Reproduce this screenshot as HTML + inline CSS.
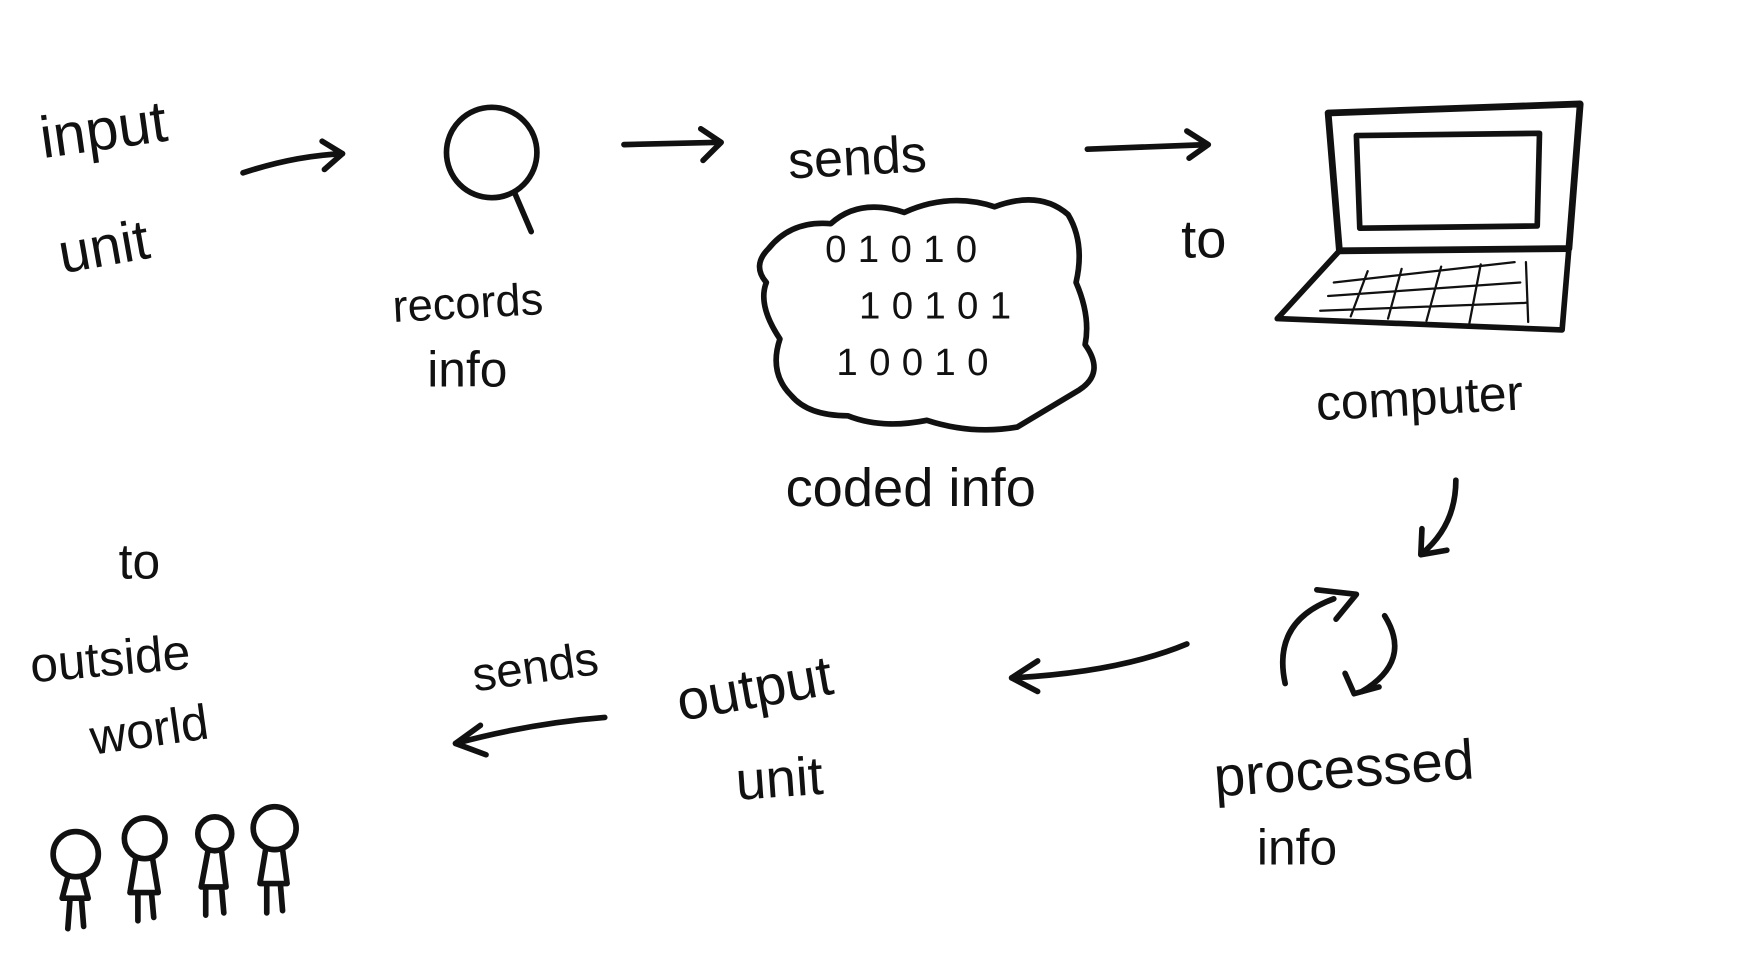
<!DOCTYPE html>
<html><head><meta charset="utf-8"><style>
html,body{margin:0;padding:0;background:#fff;}
svg{display:block}
text{font-family:"Liberation Sans",sans-serif;fill:#111;}
</style></head><body>
<svg width="1752" height="966" viewBox="0 0 1550 855" preserveAspectRatio="none">
<g fill="none" stroke="#111" stroke-width="5" stroke-linecap="round" stroke-linejoin="round">
<!-- arrows top -->
<path d="M215 153 Q260 138 303 136"/><path d="M285 125 L303 136 L287 150"/>
<path d="M552 128 L637 126"/><path d="M620 114 L638 126 L622 142"/>
<path d="M962 132 L1068 128"/><path d="M1050 116 L1069 128 L1052 140"/>
<!-- magnifier -->
<circle cx="435" cy="135" r="40"/><path d="M455 170 L470 205"/>
<!-- cloud -->
<path d="M680 220 Q700 195 735 198 Q760 175 800 188 Q840 170 880 183 Q920 168 945 190 Q960 215 952 250 Q965 280 960 305 Q978 330 955 345 Q930 360 900 378 Q860 385 820 372 Q780 380 750 368 Q715 368 700 350 Q680 330 690 300 Q670 270 678 250 Q665 235 680 220Z"/>
<!-- laptop -->
<path d="M1175 100 L1398 92 L1388 220 L1185 222 Z" stroke-width="6"/>
<path d="M1200 120 L1362 118 L1360 200 L1203 202 Z"/>
<path d="M1185 222 L1130 282 L1382 292 L1388 220"/>
<g stroke-width="2"><path d="M1180 250 L1340 232 M1175 262 L1345 250 M1168 275 L1350 268 M1210 240 L1195 280 M1240 238 L1228 282 M1275 236 L1262 284 M1310 234 L1300 286 M1350 232 L1352 285"/></g>
<!-- down arrow -->
<path d="M1288 425 Q1288 465 1258 490"/><path d="M1258 468 L1257 491 L1280 487"/>
<!-- cycle -->
<path d="M1137 605 Q1125 550 1180 530"/><path d="M1165 522 L1200 526 L1182 548"/>
<path d="M1225 545 Q1250 585 1205 612"/><path d="M1190 596 L1198 614 L1220 608"/>
<!-- bottom arrows -->
<path d="M1050 570 Q990 595 895 600"/><path d="M918 585 L895 600 L918 612"/>
<path d="M535 635 Q470 640 403 658"/><path d="M425 642 L403 658 L430 668"/>
<!-- people -->
<circle cx="67" cy="756" r="20"/><path d="M60 776 L55 795 L78 795 L73 776 M62 795 L60 822 M72 795 L74 820"/>
<circle cx="128" cy="742" r="18"/><path d="M120 760 L115 790 L140 790 L135 760 M122 790 L122 815 M134 790 L136 812"/>
<circle cx="190" cy="738" r="15"/><path d="M184 753 L178 785 L200 785 L196 753 M182 785 L182 810 M196 785 L198 808"/>
<circle cx="243" cy="733" r="19"/><path d="M235 752 L230 782 L254 782 L250 752 M236 782 L236 808 M248 782 L250 806"/>
</g>
<text x="38" y="140" font-size="52" transform="rotate(-8 38 140)">input</text>
<text x="55" y="242" font-size="50" transform="rotate(-10 55 242)">unit</text>
<text x="348" y="285" font-size="40" transform="rotate(-3 348 285)">records</text>
<text x="378" y="342" font-size="44">info</text>
<text x="698" y="158" font-size="46" transform="rotate(-3 698 158)">sends</text>
<text x="730" y="232" font-size="34" letter-spacing="10">01010</text>
<text x="760" y="282" font-size="34" letter-spacing="10">10101</text>
<text x="740" y="332" font-size="34" letter-spacing="10">10010</text>
<text x="695" y="448" font-size="48">coded info</text>
<text x="1045" y="228" font-size="48">to</text>
<text x="1165" y="372" font-size="44" transform="rotate(-3 1165 372)">computer</text>
<text x="1075" y="705" font-size="50" transform="rotate(-4 1075 705)">processed</text>
<text x="1112" y="765" font-size="44">info</text>
<text x="602" y="638" font-size="50" transform="rotate(-10 602 638)">output</text>
<text x="652" y="708" font-size="48" transform="rotate(-4 652 708)">unit</text>
<text x="420" y="612" font-size="42" transform="rotate(-8 420 612)">sends</text>
<text x="105" y="512" font-size="44">to</text>
<text x="28" y="604" font-size="44" transform="rotate(-5 28 604)">outside</text>
<text x="82" y="668" font-size="44" transform="rotate(-8 82 668)">world</text>
</svg>
</body></html>
